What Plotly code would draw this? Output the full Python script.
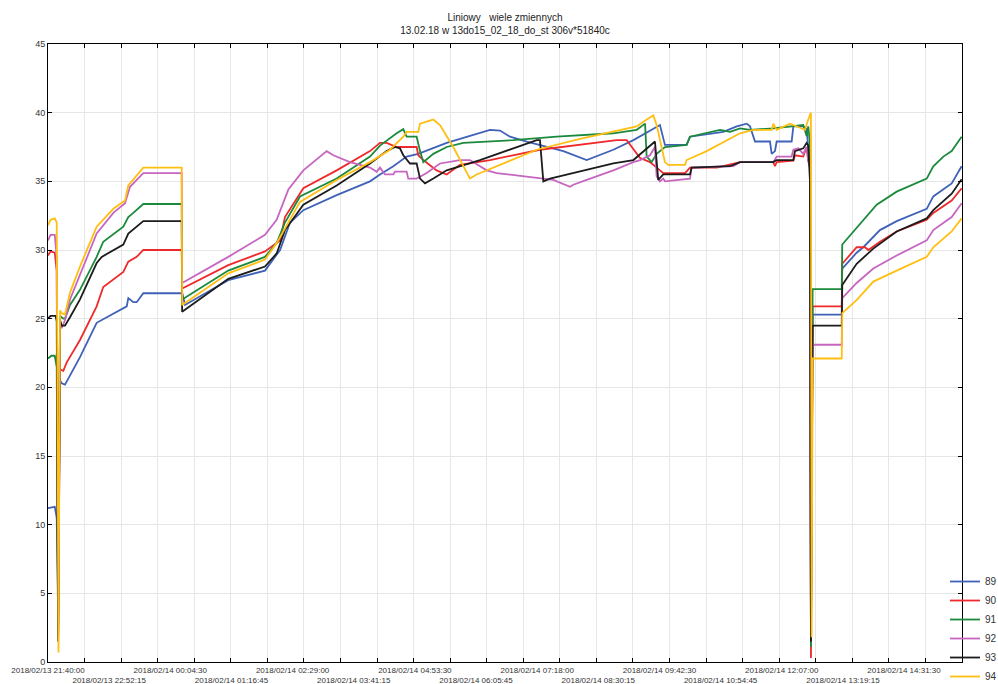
import plotly.graph_objects as go

# ---- time axis: minutes since 2018/02/13 21:40:00 (51840 cases, 1.25 s step) ----
x_range_min = 1080
grid_count = 25
label_step_min = 72.25
tick_labels = [
    "2018/02/13 21:40:00", "2018/02/13 22:52:15", "2018/02/14 00:04:30",
    "2018/02/14 01:16:45", "2018/02/14 02:29:00", "2018/02/14 03:41:15",
    "2018/02/14 04:53:30", "2018/02/14 06:05:45", "2018/02/14 07:18:00",
    "2018/02/14 08:30:15", "2018/02/14 09:42:30", "2018/02/14 10:54:45",
    "2018/02/14 12:07:00", "2018/02/14 13:19:15", "2018/02/14 14:31:30",
]

names = ["89", "90", "91", "92", "93", "94"]
colors = ["#3f62b8", "#ee2a2c", "#1b8a3c", "#c766c0", "#1c1c1c", "#ffbe12"]

# (minute, value) pairs
s89 = [(0, 11.2), (8, 11.3), (10.3, 10.5), (12.0, 3.3), (14.2, 20.5), (16.2, 20.3), (20.1, 20.2),
       (26, 20.9), (37.8, 22.2), (57.5, 24.7), (69.4, 25.1), (93, 25.9), (94.9, 26.5), (100.8, 26.2),
       (104.8, 26.2), (112.6, 26.85), (158, 26.85), (158.5, 26.9), (161.9, 26.0), (213, 27.8),
       (256.4, 28.5), (274.2, 30.0), (286, 32.0), (301.7, 32.9), (341.1, 34.0), (380.5, 35.0),
       (392.3, 35.5), (408, 36.1), (423.8, 36.8), (431.6, 36.9), (437.5, 37.0), (471.1, 37.8),
       (502.5, 38.4), (522.3, 38.75), (534.1, 38.7), (545.9, 38.25), (565.6, 37.9), (581.3, 37.65),
       (609, 37.2), (636.5, 36.55), (668, 37.3), (691.7, 38.0), (719.2, 39.0), (723.1, 39.1),
       (729, 37.65), (754.6, 37.65), (758.6, 38.25), (798, 38.6), (813.8, 39.0), (825.6, 39.2),
       (829.5, 39.0), (835.4, 37.9), (853.1, 37.9), (855.1, 37.0), (859, 37.2), (861, 37.9),
       (878.7, 37.9), (880.7, 39.0), (892.4, 39.0), (896.4, 38.8), (898.3, 37.5), (900.3, 37.0),
       (901.5, 2.5), (903.5, 25.3), (937.9, 25.3), (938.5, 28.65), (955.5, 29.8), (963.4, 30.2),
       (983.1, 31.45), (1002.8, 32.1), (1038.3, 33.0), (1046.1, 33.9), (1067.8, 34.85), (1079.6, 36.1)]

s90 = [(0, 29.6), (3, 29.9), (8, 29.8), (10.3, 28.5), (12.0, 2.0), (14.2, 21.3), (18.1, 21.2),
       (22, 21.8), (37.8, 23.45), (57.5, 25.9), (65.3, 27.3), (89, 28.4), (94.9, 29.15), (104.8, 29.5),
       (112.6, 30.0), (158, 30.0), (158.5, 27.2), (213, 28.9), (256.4, 29.9), (274.2, 30.7),
       (280, 32.4), (301.7, 34.5), (341.1, 35.8), (380.5, 37.2), (392.3, 37.8), (400.2, 37.8),
       (412, 37.5), (435.6, 37.5), (437.5, 36.9), (443.5, 36.55), (459.2, 35.8), (471.1, 35.5),
       (486.8, 36.2), (522.3, 36.55), (581.3, 37.3), (628.6, 37.65), (672, 38.0), (683.8, 38.0),
       (699.6, 36.7), (711.3, 36.4), (727, 35.6), (752.7, 35.6), (758.6, 36.0), (790.1, 36.0),
       (817.7, 36.4), (857, 36.4), (859, 36.1), (861, 36.4), (880.7, 36.5), (882.6, 36.9),
       (892.4, 36.8), (896.4, 37.5), (898.3, 36.5), (900.3, 36.0), (901.5, 0.3), (903.5, 25.9),
       (937.9, 25.9), (938.5, 29.0), (955.5, 30.2), (965.4, 30.2), (969.3, 30.0), (983.1, 30.6),
       (1002.8, 31.35), (1038.3, 32.2), (1046.1, 32.7), (1067.8, 33.6), (1079.6, 34.5)]

s91 = [(0, 22.1), (4, 22.3), (8, 22.3), (10.3, 21.5), (12.0, 2.5), (14.2, 25.2), (18.1, 25.0),
       (20.1, 25.0), (26, 26.0), (37.8, 27.1), (57.5, 29.5), (65.3, 30.6), (89, 31.7), (94.9, 32.4),
       (100.8, 32.7), (112.6, 33.35), (158, 33.35), (158.5, 26.4), (213, 28.5), (256.4, 29.5),
       (270.2, 30.5), (280, 32.0), (297.8, 33.9), (341.1, 35.2), (380.5, 36.8), (392.3, 37.6),
       (412, 38.5), (419.8, 38.8), (423.8, 38.25), (435.6, 38.25), (439.6, 37.2), (443.5, 36.4),
       (455.3, 37.0), (471.1, 37.5), (490.7, 37.8), (549.8, 38.0), (601.1, 38.25), (668, 38.5),
       (695.6, 38.75), (705.5, 39.2), (707.4, 36.8), (713.3, 36.4), (719.2, 37.0), (729, 37.5),
       (754.6, 37.65), (758.6, 38.25), (794.1, 38.75), (805.9, 38.6), (817.7, 38.85), (829.5, 38.75),
       (857, 38.85), (876.7, 39.0), (892.4, 39.1), (896.4, 38.3), (898.3, 39.0), (900.3, 37.8),
       (901.5, 1.1), (903.5, 27.15), (937.9, 27.15), (938.5, 30.4), (963.4, 32.2), (979.2, 33.3),
       (1002.8, 34.25), (1038.3, 35.2), (1046.1, 36.1), (1058, 36.8), (1067.8, 37.2), (1079.6, 38.25)]

s92 = [(0, 30.7), (3, 31.1), (8, 31.1), (10.3, 29.5), (12.0, 1.8), (14.2, 24.6), (16.2, 24.3),
       (20.1, 24.9), (26, 26.4), (57.5, 31.2), (77.2, 32.7), (91, 33.4), (96.9, 34.6), (112.6, 35.6),
       (158, 35.6), (158.5, 27.6), (213, 29.5), (256.4, 31.1), (270.2, 32.2), (284, 34.4),
       (301.7, 35.8), (329.3, 37.2), (337.1, 36.9), (356.8, 36.4), (380.5, 36.0), (388.4, 35.7),
       (392.3, 36.0), (398.2, 35.5), (408, 35.5), (410, 35.7), (423.8, 35.7), (425.7, 35.2),
       (435.6, 35.2), (447.4, 35.6), (463.2, 36.3), (486.8, 36.55), (498.6, 36.55), (518.4, 35.8),
       (530.2, 35.6), (565.6, 35.35), (597.1, 35.1), (616.8, 34.6), (620.7, 34.75), (636.5, 35.1),
       (668, 35.8), (691.7, 36.4), (699.6, 36.55), (711.3, 36.9), (717.2, 37.5), (719.2, 35.35),
       (723.1, 35.0), (727, 35.2), (729, 35.0), (758.6, 35.2), (760.5, 36.0), (809.8, 36.1),
       (817.7, 36.4), (857, 36.4), (861, 36.8), (878.7, 36.8), (880.7, 37.3), (886.6, 37.4),
       (892.4, 37.0), (896.4, 37.5), (898.3, 36.5), (900.3, 36.2), (901.5, 2.5), (903.5, 23.1),
       (937.9, 23.1), (938.5, 26.5), (955.5, 27.6), (975.2, 28.65), (1002.8, 29.6), (1038.3, 30.7),
       (1046.1, 31.45), (1067.8, 32.4), (1079.6, 33.4)]

s93 = [(0, 25.0), (3, 25.2), (9, 25.2), (10.3, 24.8), (12.0, 1.5), (14.2, 24.9), (16.2, 24.5),
       (20.1, 24.5), (26, 25.1), (37.8, 26.4), (57.5, 29.05), (63.5, 29.5), (89, 30.4), (94.9, 31.2),
       (112.6, 32.1), (158, 32.1), (158.5, 25.5), (213, 27.9), (256.4, 28.8), (270.2, 29.75),
       (280, 31.45), (301.7, 33.3), (341.1, 34.7), (380.5, 36.3), (400.2, 37.2), (410, 37.5),
       (415.9, 37.4), (419.8, 36.9), (427.7, 36.3), (435.6, 36.3), (439.6, 35.2), (445.5, 34.85),
       (455.3, 35.2), (471.1, 35.8), (510.4, 36.55), (549.8, 37.4), (577.5, 38.0), (581.3, 38.0),
       (585.3, 35.0), (593.2, 35.2), (628.6, 35.7), (668, 36.3), (691.7, 36.55), (707.4, 37.4),
       (717.2, 37.9), (721.1, 35.1), (727, 35.5), (758.6, 35.5), (760.5, 36.0), (805.9, 36.1),
       (817.7, 36.4), (857, 36.4), (861, 36.55), (880.7, 36.55), (882.6, 37.2), (892.4, 37.4),
       (896.4, 37.8), (898.3, 37.6), (900.3, 35.1), (901.5, 1.5), (903.5, 24.5), (937.9, 24.5),
       (938.5, 27.45), (955.5, 29.0), (975.2, 30.1), (1002.8, 31.35), (1038.3, 32.3), (1046.1, 32.9),
       (1067.8, 34.1), (1079.6, 35.15)]

s94 = [(0, 31.8), (3, 32.2), (8, 32.3), (10.3, 32.0), (12.4, 0.7), (14.2, 25.6), (16.2, 25.4),
       (20.1, 25.3), (26, 26.9), (37.8, 28.8), (57.5, 31.7), (77.2, 33.0), (91, 33.6), (94.9, 34.7),
       (112.6, 36.0), (158, 36.0), (158.5, 26.0), (213, 28.3), (256.4, 29.3), (270.2, 30.5),
       (297.8, 33.5), (341.1, 35.1), (380.5, 36.4), (404.1, 37.3), (419.8, 38.25), (423.8, 38.6),
       (437.5, 38.6), (439.6, 39.2), (455.3, 39.5), (463.2, 39.1), (478.9, 37.5), (498.6, 35.2),
       (506.5, 35.5), (530.2, 36.1), (577.5, 37.3), (628.6, 38.1), (668, 38.6), (695.6, 39.0),
       (707.4, 39.5), (715.2, 39.8), (719.2, 39.1), (729, 36.4), (732.9, 36.2), (752.7, 36.2),
       (754.6, 36.55), (778.3, 37.2), (817.7, 38.5), (833.4, 38.75), (855.1, 38.75), (857, 39.2),
       (861, 38.75), (876.7, 39.2), (888.5, 38.9), (894.4, 38.75), (898.3, 39.5), (901.5, 40.0),
       (902.3, 1.8), (903.5, 22.1), (937.9, 22.1), (938.5, 25.4), (955.5, 26.35), (975.2, 27.7),
       (1002.8, 28.5), (1038.3, 29.5), (1046.1, 30.2), (1067.8, 31.35), (1079.6, 32.3)]

series = [s89, s90, s91, s92, s93, s94]

fig = go.Figure()
for name, col, s in zip(names, colors, series):
    fig.add_trace(go.Scatter(
        x=[p[0] for p in s], y=[p[1] for p in s], mode="lines", name=name,
        line=dict(color=col, width=1.8), xaxis="x", yaxis="y"))

# helper trace that carries the labelled time axis
fig.add_trace(go.Scatter(x=[0, x_range_min], y=[None, None], xaxis="x2", yaxis="y",
                         showlegend=False, hoverinfo="skip", mode="lines"))

grid_vals = [k * x_range_min / grid_count for k in range(grid_count + 1)]
label_vals = [i * label_step_min for i in range(len(tick_labels))]
label_text = [t if i % 2 == 0 else "<br>" + t for i, t in enumerate(tick_labels)]

font_family = "Liberation Sans, Arial, sans-serif"

fig.update_layout(
    width=998, height=684, autosize=False,
    margin=dict(l=48, r=36, t=44, b=22, autoexpand=False),
    paper_bgcolor="white", plot_bgcolor="white",
    font=dict(family=font_family, color="#333"),
    title=dict(
        text="Liniowy\u00a0\u00a0\u00a0wiele zmiennych<br>13.02.18 w 13do15_02_18_do_st 306v*51840c",
        x=0.5, xref="paper", xanchor="center", y=0.97, yref="container", yanchor="top",
        font=dict(size=10, color="#222", family=font_family)),
    xaxis=dict(range=[0, x_range_min], tickmode="array", tickvals=grid_vals,
               showticklabels=False, ticks="inside", ticklen=4, tickcolor="#000",
               showgrid=True, gridcolor="#e6e6e6", gridwidth=1, zeroline=False,
               showline=True, linecolor="#000", linewidth=1, mirror="ticks"),
    xaxis2=dict(range=[0, x_range_min], overlaying="x", anchor="y", side="bottom",
                tickmode="array", tickvals=label_vals, ticktext=label_text, tickangle=0,
                ticks="", showgrid=False, showline=False, zeroline=False,
                ticklabelstandoff=2,
                tickfont=dict(size=8, color="#333")),
    yaxis=dict(range=[0, 45], tickmode="linear", tick0=0, dtick=5,
               ticks="inside", ticklen=4, tickcolor="#000",
               showgrid=True, gridcolor="#e6e6e6", zeroline=False,
               showline=True, linecolor="#000", linewidth=1, mirror="ticks",
               tickfont=dict(size=9, color="#333")),
    legend=dict(x=0.9814, xanchor="left", y=0.1537, yanchor="top",
                font=dict(size=10, color="#333"), bgcolor="rgba(255,255,255,0)",
                borderwidth=0, tracegroupgap=0, itemwidth=30),
    showlegend=True,
)

fig.write_html("out.html", config={"displayModeBar": False},
               post_script="document.body.style.margin='0';")
